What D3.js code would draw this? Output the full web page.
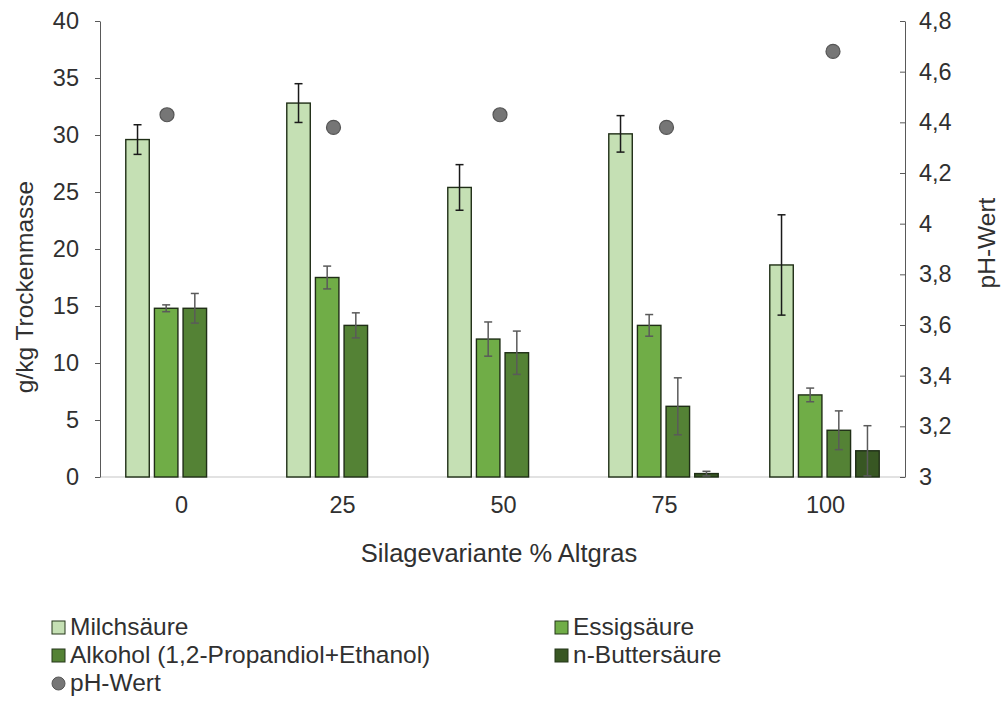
<!DOCTYPE html>
<html>
<head>
<meta charset="utf-8">
<script src="https://cdn.jsdelivr.net/npm/d3@7"></script>
<style>
  body { margin: 0; background: #fff; }
  text { font-family: "Liberation Sans", Arial, sans-serif; fill: #303030; }
</style>
</head>
<body>
<svg width="1003" height="702"></svg>
<script>
// data
const categories = ["0", "25", "50", "75", "100"];
const seriesNames = ["Milchsäure", "Essigsäure", "Alkohol (1,2-Propandiol+Ethanol)", "n-Buttersäure"];
const seriesColors = ["#c5e0b4", "#70ad47", "#548235", "#385723"];

const milch = [29.6, 32.8, 25.4, 30.1, 18.6];
const milchErr = [1.3, 1.7, 2.0, 1.6, 4.4];
const essig = [14.8, 17.5, 12.1, 13.3, 7.2];
const essigErr = [0.3, 1.0, 1.5, 0.95, 0.6];
const alkohol = [14.8, 13.3, 10.9, 6.2, 4.1];
const alkoholErr = [1.3, 1.1, 1.9, 2.5, 1.7];
const butter = [0, 0, 0, 0.3, 2.3];
const butterErr = [0, 0, 0, 0.2, 2.2];
const ph = [4.43, 4.38, 4.43, 4.38, 4.68];

const yTicks = [0, 5, 10, 15, 20, 25, 30, 35, 40];
const phTicks = [3, 3.2, 3.4, 3.6, 3.8, 4, 4.2, 4.4, 4.6, 4.8];

const svg = d3.select("svg"),
    plotLeft = 100, plotRight = 905, plotTop = 21, plotBottom = 477;

const x0 = d3.scaleBand().domain(categories).range([plotLeft, plotRight]);
const x1 = d3.scaleBand().domain(seriesNames).range([0, x0.bandwidth()])
    .paddingInner(0.18).paddingOuter(0.9);
const xPh = d3.scalePoint().domain(categories).range([167, 833]);
const y = d3.scaleLinear().domain([0, 40]).range([plotBottom, plotTop]);
const yPh = d3.scaleLinear().domain([3, 4.8]).range([plotBottom, plotTop]);

const values = [milch, essig, alkohol, butter];
const errors = [milchErr, essigErr, alkoholErr, butterErr];
const errColors = ["#1a1a1a", "#5a5a5a", "#5a5a5a", "#5a5a5a"];

const bars = [];
seriesNames.forEach((s, si) => {
  categories.forEach((c, ci) => {
    if (values[si][ci] > 0) {
      bars.push({ series: s, si, cat: c, v: values[si][ci], e: errors[si][ci] });
    }
  });
});

// baseline
svg.append("line")
  .attr("x1", plotLeft).attr("x2", plotRight)
  .attr("y1", plotBottom).attr("y2", plotBottom)
  .attr("stroke", "#d9d9d9").attr("stroke-width", 1.5);

// bars
svg.append("g").selectAll("rect")
  .data(bars)
  .enter().append("rect")
  .attr("x", (d) => x0(d.cat) + x1(d.series))
  .attr("y", (d) => y(d.v))
  .attr("width", x1.bandwidth())
  .attr("height", (d) => y(0) - y(d.v))
  .attr("fill", (d) => seriesColors[d.si])
  .attr("stroke", "#1f2e16")
  .attr("stroke-width", 1.4);

// error bars
const err = svg.append("g").selectAll("g")
  .data(bars)
  .enter().append("g")
  .attr("stroke", (d) => errColors[d.si])
  .attr("stroke-width", 1.5);
const cx = (d) => x0(d.cat) + x1(d.series) + x1.bandwidth() / 2;
err.append("line")
  .attr("x1", cx).attr("x2", cx)
  .attr("y1", (d) => y(d.v + d.e)).attr("y2", (d) => y(Math.max(0, d.v - d.e)));
err.append("line")
  .attr("x1", (d) => cx(d) - 4).attr("x2", (d) => cx(d) + 4)
  .attr("y1", (d) => y(d.v + d.e)).attr("y2", (d) => y(d.v + d.e));
err.append("line")
  .attr("x1", (d) => cx(d) - 4).attr("x2", (d) => cx(d) + 4)
  .attr("y1", (d) => y(Math.max(0, d.v - d.e))).attr("y2", (d) => y(Math.max(0, d.v - d.e)));

// pH points
svg.append("g").selectAll("circle")
  .data(categories)
  .enter().append("circle")
  .attr("cx", (c) => xPh(c))
  .attr("cy", (c, i) => yPh(ph[i]))
  .attr("r", 7)
  .attr("fill", "#767676")
  .attr("stroke", "#555")
  .attr("stroke-width", 1.2);

// left axis
const yAxis = svg.append("g")
  .attr("transform", "translate(" + plotLeft + ",0)")
  .call(d3.axisLeft(y).tickValues(yTicks).tickSizeInner(5).tickSizeOuter(0).tickPadding(16));
yAxis.select(".domain").attr("stroke", "#595959");
yAxis.selectAll(".tick line").attr("stroke", "#595959");
yAxis.selectAll("text").style("font-size", "23.5px").attr("fill", "#303030");

// right axis, ticks pointing inward
const fmt = (d) => String(+d.toFixed(1)).replace(".", ",");
const yAxisR = svg.append("g")
  .attr("transform", "translate(" + plotRight + ",0)")
  .call(d3.axisRight(yPh).tickValues(phTicks).tickFormat(fmt).tickSizeInner(-5).tickSizeOuter(0).tickPadding(14));
yAxisR.select(".domain").attr("stroke", "#595959");
yAxisR.selectAll(".tick line").attr("stroke", "#595959");
yAxisR.selectAll("text").style("font-size", "23.5px").attr("fill", "#303030");

// x labels
svg.append("g").selectAll("text")
  .data(categories)
  .enter().append("text")
  .attr("x", (c) => x0(c) + x0.bandwidth() / 2 + 1)
  .attr("y", 513)
  .attr("text-anchor", "middle")
  .style("font-size", "23.5px")
  .text((c) => c);

// axis titles
svg.append("text")
  .attr("x", 499).attr("y", 562)
  .attr("text-anchor", "middle")
  .style("font-size", "25.5px")
  .text("Silagevariante % Altgras");

svg.append("text")
  .attr("transform", "translate(33,287) rotate(-90)")
  .attr("text-anchor", "middle")
  .style("font-size", "24.5px")
  .text("g/kg Trockenmasse");

svg.append("text")
  .attr("transform", "translate(995,243) rotate(-90)")
  .attr("text-anchor", "middle")
  .style("font-size", "24.5px")
  .text("pH-Wert");

// legend
const legendItems = [
  { label: seriesNames[0], color: seriesColors[0], x: 52, y: 635 },
  { label: seriesNames[1], color: seriesColors[1], x: 555, y: 635 },
  { label: seriesNames[2], color: seriesColors[2], x: 52, y: 663 },
  { label: seriesNames[3], color: seriesColors[3], x: 555, y: 663 }
];
const leg = svg.append("g").selectAll("g")
  .data(legendItems)
  .enter().append("g")
  .attr("transform", (d) => "translate(" + d.x + "," + d.y + ")");
leg.append("rect")
  .attr("x", 0).attr("y", -14)
  .attr("width", 13).attr("height", 13)
  .attr("fill", (d) => d.color)
  .attr("stroke", "#25361b").attr("stroke-width", 1);
leg.append("text")
  .attr("x", 18).attr("y", 0)
  .style("font-size", "24.5px")
  .text((d) => d.label);

const phLeg = svg.append("g").attr("transform", "translate(52,691)");
phLeg.append("circle")
  .attr("cx", 6.5).attr("cy", -7.5).attr("r", 6.5)
  .attr("fill", "#767676").attr("stroke", "#555");
phLeg.append("text")
  .attr("x", 18).attr("y", 0)
  .style("font-size", "24.5px")
  .text("pH-Wert");
</script>
</body>
</html>
